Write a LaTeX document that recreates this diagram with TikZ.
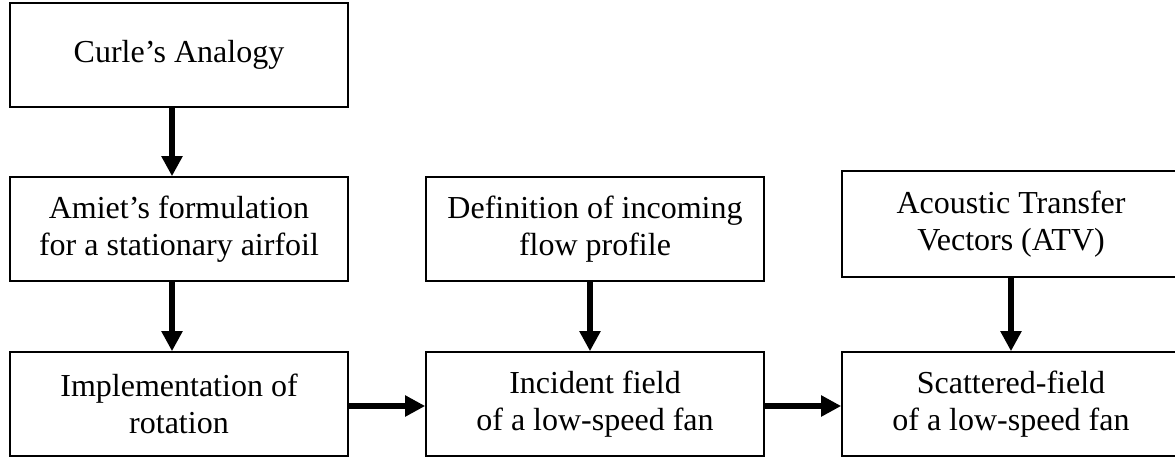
\documentclass[tikz,border=0pt]{standalone}
\usepackage{fontspec}
\setmainfont{Liberation Serif}
\usepackage{tikz}
\usetikzlibrary{arrows.meta}

\tikzset{
	block/.style={draw, line width=0.8pt, minimum width=169pt, minimum height=52pt,
		align=center, inner sep=0pt, font=\fontsize{16}{18.7}\selectfont},
	flow/.style={line width=3.2pt, -{Triangle[width=10pt,length=10pt]}}
}

\begin{document}
\begin{tikzpicture}[x=0.5pt,y=-0.5pt]
		\useasboundingbox (0,0) rectangle (1175,457);
		% left column
		\node[block] (curle) at (179,55) {Curle's Analogy};
		\node[block] (amiet) at (179,229) {Amiet's formulation\\for a stationary airfoil};
		\node[block] (rot) at (179,404) {Implementation of\\rotation};
		% middle column
		\node[block] (inflow) at (595,229) {Definition of incoming\\flow profile};
		\node[block] (incid) at (595,404) {Incident field\\of a low-speed fan};
		% right column (runs off the page)
		\node[block, minimum height=53pt] (atv) at (1011,224) {Acoustic Transfer\\Vectors (ATV)};
		\node[block] (scat) at (1011,404) {Scattered-field\\of a low-speed fan};
		% connectors
		\draw[flow] ([xshift=-3.5pt]curle.south) -- ([xshift=-3.5pt]amiet.north);
		\draw[flow] ([xshift=-3.5pt]amiet.south) -- ([xshift=-3.5pt]rot.north);
		\draw[flow] ([xshift=-2.5pt]inflow.south) -- ([xshift=-2.5pt]incid.north);
		\draw[flow] (atv.south) -- (scat.north);
		\draw[flow] ([yshift=-1pt]rot.east) -- ([yshift=-1pt]incid.west);
		\draw[flow] ([yshift=-1pt]incid.east) -- ([yshift=-1pt]scat.west);
	\end{tikzpicture}
\end{document}
